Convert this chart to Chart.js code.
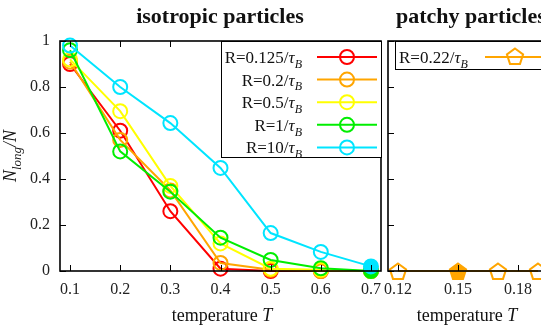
<!DOCTYPE html>
<html><head><meta charset="utf-8">
<script src="https://cdn.jsdelivr.net/npm/chart.js@4/dist/chart.umd.min.js"></script>
<style>
html,body{margin:0;padding:0;background:#fff;overflow:hidden;width:541px;height:327px;position:relative;}
canvas{position:absolute;top:0;}
#c1{left:0;}
#c2{left:380px;}
</style></head><body>
<canvas id="c1" width="396" height="327"></canvas>
<canvas id="c2" width="200" height="327"></canvas>
<script>
// ---------- data ----------
const temps = [0.1, 0.2, 0.3, 0.4, 0.5, 0.6, 0.7];
const rLabels = ['0.125', '0.2', '0.5', '1', '10'];
const nR0125 = [0.90, 0.61, 0.26, 0.01, 0.0, 0.0, 0.0];
const nR02   = [0.91, 0.57, 0.35, 0.035, 0.005, 0.0, 0.0];
const nR05   = [0.92, 0.695, 0.37, 0.12, 0.01, 0.005, 0.0];
const nR1    = [0.96, 0.52, 0.345, 0.145, 0.048, 0.012, 0.0];
const nR10   = [0.98, 0.80, 0.643, 0.448, 0.165, 0.083, 0.02];
const patchyTemps = [0.12, 0.15, 0.17, 0.19];
const patchyVals  = [0.0, 0.0, 0.0, 0.0];
const patchyLabel = '0.22';
const xTicksLeft  = [0.1, 0.2, 0.3, 0.4, 0.5, 0.6, 0.7];
const xTicksRight = [0.12, 0.15, 0.18];
const yTicks      = [0, 0.2, 0.4, 0.6, 0.8, 1];
const titleLeft = 'isotropic particles';
const titleRight = 'patchy particles';

// ---------- styles ----------
const FAM = '"Liberation Serif", "Times New Roman", serif';
const colors = ['#ff0000', '#ffa500', '#ffff00', '#00ee00', '#00e5ff'];
const ORANGE = '#ffa500';
const fmt = v => String(Math.round(v * 100) / 100);

function pentagonCanvas(filled) {
  const c = document.createElement('canvas');
  c.width = 22; c.height = 22;
  const g = c.getContext('2d');
  g.beginPath();
  for (let i = 0; i < 5; i++) {
    const a = -Math.PI / 2 + i * 2 * Math.PI / 5;
    const px = 11 + 8.5 * Math.cos(a), py = 12 + 8.5 * Math.sin(a);
    i ? g.lineTo(px, py) : g.moveTo(px, py);
  }
  g.closePath();
  if (filled) { g.fillStyle = ORANGE; g.fill(); }
  g.strokeStyle = ORANGE; g.lineWidth = 2; g.stroke();
  return c;
}
const pentOpen = pentagonCanvas(false);
const pentFilled = pentagonCanvas(true);

function fontOf(s, size) {
  const sz = s.sub ? Math.round(size * 0.72) : size;
  return (s.it ? 'italic ' : '') + (s.b ? 'bold ' : '') + sz + 'px ' + FAM;
}
function richWidth(ctx, segs, size) {
  let w = 0;
  for (const s of segs) { ctx.font = fontOf(s, size); w += ctx.measureText(s.t).width; }
  return w;
}
function drawRich(ctx, segs, x, y, align, size) {
  const w = richWidth(ctx, segs, size);
  let cx = align === 'right' ? x - w : align === 'center' ? x - w / 2 : x;
  ctx.textBaseline = 'alphabetic'; ctx.textAlign = 'left'; ctx.fillStyle = '#111';
  for (const s of segs) {
    ctx.font = fontOf(s, size);
    ctx.fillText(s.t, cx, y + (s.sub ? size * 0.28 : 0));
    cx += ctx.measureText(s.t).width;
  }
}
const rSegs = v => [{t: 'R=' + v + '/'}, {t: 'τ', it: true}, {t: 'B', it: true, sub: true}];

const framePlugin = {
  id: 'frame',
  afterDraw(chart, args, o) {
    const ctx = chart.ctx, a = chart.chartArea, xs = chart.scales.x, ys = chart.scales.y;
    ctx.save();
    // inner ticks
    ctx.strokeStyle = '#000'; ctx.lineWidth = 1;
    ctx.beginPath();
    for (const t of xs.ticks) {
      const px = Math.round(xs.getPixelForValue(t.value)) + 0.5;
      ctx.moveTo(px, a.bottom); ctx.lineTo(px, a.bottom - 6);
      ctx.moveTo(px, a.top); ctx.lineTo(px, a.top + 6);
    }
    for (const t of ys.ticks) {
      const py = Math.round(ys.getPixelForValue(t.value)) + 0.5;
      ctx.moveTo(a.left, py); ctx.lineTo(a.left + 6, py);
    }
    ctx.stroke();
    // frame
    ctx.lineWidth = 1.6;
    ctx.strokeRect(a.left, a.top, a.right - a.left, a.bottom - a.top);
    // legend
    const L = o.legend;
    ctx.fillStyle = '#fff';
    ctx.fillRect(L.x, L.y, L.w, L.h);
    ctx.lineWidth = 1; ctx.strokeStyle = '#000';
    ctx.strokeRect(L.x + 0.5, L.y + 0.5, L.w, L.h);
    L.items.forEach((it, i) => {
      const cy = L.y + 16 + i * 22.6;
      drawRich(ctx, rSegs(it.label), L.textX, cy + 6, L.textAlign, 17);
      ctx.strokeStyle = it.color; ctx.lineWidth = 2;
      ctx.beginPath(); ctx.moveTo(L.lineX0, cy); ctx.lineTo(L.lineX1, cy); ctx.stroke();
      const mx = (L.lineX0 + L.lineX1) / 2;
      if (it.pent) {
        ctx.drawImage(pentOpen, mx - 11, cy - 12);
      } else {
        ctx.beginPath(); ctx.arc(mx, cy, 7, 0, Math.PI * 2); ctx.stroke();
      }
    });
    // title
    drawRich(ctx, [{t: o.title, b: true}], o.titleX, 23, o.titleAlign, 22);
    // x title
    drawRich(ctx, [{t: 'temperature '}, {t: 'T', it: true}], o.xTitleX, 321, 'center', 18);
    // y title
    if (o.yTitle) {
      ctx.translate(16, (a.top + a.bottom) / 2);
      ctx.rotate(-Math.PI / 2);
      drawRich(ctx, [{t: 'N', it: true}, {t: 'long', it: true, sub: true}, {t: '/N', it: true}], 0, 0, 'center', 18);
    }
    ctx.restore();
  }
};

function scaleX(min, max, ticks) {
  return {
    type: 'linear', min, max,
    afterBuildTicks: s => { s.ticks = ticks.map(v => ({value: v})); },
    afterFit: s => { s.height = 56; s.paddingLeft = 0; s.paddingRight = 0; },
    grid: {display: false, drawTicks: false}, border: {display: false},
    ticks: {callback: v => fmt(v), font: {family: FAM, size: 16}, color: '#222', padding: 9, maxRotation: 0, autoSkip: false}
  };
}
function scaleY(show) {
  return {
    min: 0, max: 1, display: show,
    afterBuildTicks: s => { s.ticks = yTicks.map(v => ({value: v})); },
    afterFit: s => { s.width = show ? 60 : 0; s.paddingTop = 0; s.paddingBottom = 0; },
    grid: {display: false, drawTicks: false}, border: {display: false},
    ticks: {callback: v => fmt(v), font: {family: FAM, size: 16}, color: '#222', padding: 10}
  };
}

const series = [nR0125, nR02, nR05, nR1, nR10];
const filledLast = [false, false, false, true, true];
const leftSets = series.map((vals, i) => ({
  label: rLabels[i],
  data: temps.map((t, j) => ({x: t, y: vals[j]})),
  borderColor: colors[i],
  borderWidth: 2,
  pointRadius: 7,
  pointBorderWidth: 2,
  pointBorderColor: colors[i],
  pointBackgroundColor: temps.map((t, j) => (filledLast[i] && j === temps.length - 1) ? colors[i] : 'rgba(0,0,0,0)'),
  order: series.length - i,
  clip: false,
  tension: 0
}));

new Chart(document.getElementById('c1'), {
  type: 'line',
  data: {datasets: leftSets},
  options: {
    responsive: false, animation: false, devicePixelRatio: 1,
    layout: {padding: {left: 0, top: 41, right: 15, bottom: 0}},
    scales: {x: scaleX(0.08, 0.72, xTicksLeft), y: scaleY(true)},
    plugins: {
      legend: {display: false}, tooltip: {enabled: false},
      frame: {
        title: titleLeft, titleX: 220, titleAlign: 'center', xTitleX: 222, yTitle: true,
        legend: {x: 221, y: 41, w: 160, h: 116, textX: 302, textAlign: 'right', lineX0: 317, lineX1: 377,
          items: rLabels.map((l, i) => ({label: l, color: colors[i]}))}
      }
    }
  },
  plugins: [framePlugin]
});

new Chart(document.getElementById('c2'), {
  type: 'line',
  data: {datasets: [{
    label: patchyLabel,
    data: patchyTemps.map((t, j) => ({x: t, y: patchyVals[j]})),
    borderColor: ORANGE, borderWidth: 2,
    pointStyle: patchyTemps.map((t, j) => j === 1 ? pentFilled : pentOpen),
    clip: false, tension: 0
  }]},
  options: {
    responsive: false, animation: false, devicePixelRatio: 1,
    layout: {padding: {left: 8, top: 41, right: 22, bottom: 0}},
    scales: {x: scaleX(0.115, 0.2, xTicksRight), y: scaleY(false)},
    plugins: {
      legend: {display: false}, tooltip: {enabled: false},
      frame: {
        title: titleRight, titleX: 16, titleAlign: 'left', xTitleX: 87, yTitle: false,
        legend: {x: 15, y: 41, w: 200, h: 28, textX: 19, textAlign: 'left', lineX0: 105, lineX1: 165,
          items: [{label: patchyLabel, color: ORANGE, pent: true}]}
      }
    }
  },
  plugins: [framePlugin]
});
</script>
</body></html>
